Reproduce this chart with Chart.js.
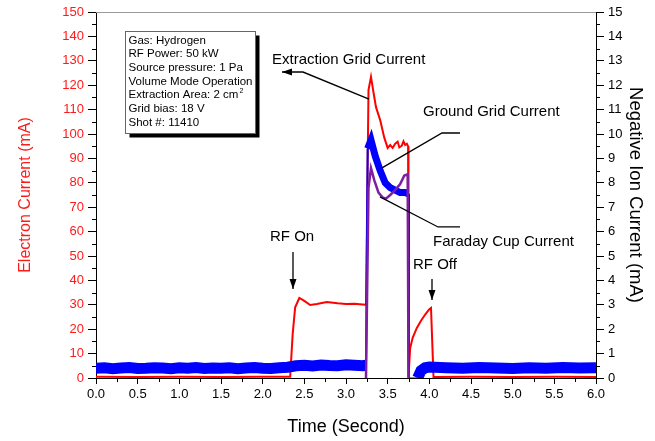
<!DOCTYPE html>
<html>
<head>
<meta charset="utf-8">
<script src="https://cdn.jsdelivr.net/npm/chart.js@4.4.1/dist/chart.umd.min.js"></script>
<style>
  html, body { margin: 0; padding: 0; background: #fff; }
  #wrap { width: 655px; height: 441px; }
</style>
</head>
<body>
<div id="wrap"><canvas id="chart"></canvas></div>
<script>
// Electron current (left axis, mA)
const electronTime = [0, 0.5, 1.0, 1.5, 2.0, 2.33, 2.36, 2.39, 2.44, 2.5, 2.57, 2.65, 2.77, 2.9, 3.0, 3.1, 3.2, 3.24,
  3.27, 3.30, 3.33, 3.36, 3.41, 3.46, 3.50, 3.53, 3.56, 3.59, 3.62, 3.64, 3.67, 3.69, 3.71, 3.73, 3.745,
  3.75, 3.77, 3.8, 3.85, 3.9, 3.95, 4.0, 4.02, 4.04, 4.05, 4.5, 5.0, 5.5, 6.0];
const electronCurrent = [0.5, 0.4, 0.5, 0.4, 0.5, 0.5, 18, 29, 32.8, 31.6, 29.9, 30.3, 31.1, 30.6, 30.3, 30.4, 30.1, 30.0,
  118, 123.4, 117, 111, 105.7, 98.4, 94.3, 95.5, 94.3, 96, 96.8, 94.5, 95.2, 97, 95.5, 96, 95,
  0.3, 12.3, 16.5, 20.5, 23.5, 26, 28.2, 28.7, 10, 0.4, 0.5, 0.4, 0.5, 0.4];

// Ground grid current (right axis, mA)
const groundTime = [0, 0.1, 0.2, 0.3, 0.4, 0.5, 0.6, 0.7, 0.8, 0.9, 1.0, 1.1, 1.2, 1.3, 1.4, 1.5, 1.6, 1.7, 1.8, 1.9,
  2.0, 2.1, 2.2, 2.3, 2.4, 2.5, 2.6, 2.7, 2.8, 2.9, 3.0, 3.1, 3.2, 3.24,
  3.26, 3.30, 3.35, 3.41, 3.47, 3.53, 3.59, 3.65, 3.71, 3.745, 3.755, 3.86, 3.9, 3.95,
  4.0, 4.2, 4.4, 4.6, 4.8, 5.0, 5.2, 5.4, 5.6, 5.8, 6.0];
const groundCurrent = [0.40, 0.42, 0.38, 0.41, 0.43, 0.39, 0.40, 0.42, 0.41, 0.38, 0.42, 0.40, 0.43, 0.39, 0.41, 0.40,
  0.42, 0.38, 0.41, 0.43, 0.40, 0.39, 0.42, 0.44, 0.50, 0.52, 0.49, 0.53, 0.51, 0.50, 0.54, 0.52, 0.50, 0.52,
  9.4, 9.75, 9.1, 8.5, 8.0, 7.8, 7.7, 7.6, 7.6, 7.55, 0, 0, 0.3, 0.42,
  0.45, 0.42, 0.40, 0.43, 0.41, 0.39, 0.42, 0.40, 0.43, 0.41, 0.42];

// Faraday cup current (right axis, mA)
const faradayTime = [3.24, 3.27, 3.30, 3.34, 3.39, 3.44, 3.48, 3.53, 3.59, 3.65, 3.70, 3.74, 3.75];
const faradayCurrent = [0, 7.8, 8.6, 8.1, 7.6, 7.4, 7.35, 7.5, 7.7, 7.95, 8.3, 8.35, 0];

const infoLines = ['Gas: Hydrogen', 'RF Power: 50 kW', 'Source pressure: 1 Pa', 'Volume Mode Operation',
  'Extraction Area: 2 cm', 'Grid bias: 18 V', 'Shot #: 11410'];

const FONT = '"Liberation Sans", Arial, sans-serif';

function points(t, v) {
  return t.map((x, i) => ({ x: x, y: v[i] }));
}

// thick noisy band on the baseline, thinner on the pulse, hairline on the edges
function groundWidth(ctx) {
  const y0 = ctx.p0.parsed.y, y1 = ctx.p1.parsed.y;
  if (Math.abs(y1 - y0) > 1) return 2;
  if (Math.max(y0, y1) < 0.05) return 1;
  return y0 > 2 ? 7 : 11;
}

// labels and arrows, placed in (time, left-axis mA)
const notes = [
  { text: 'Extraction Grid Current', t: 2.112, v: 130.3 },
  { text: 'Ground Grid Current', t: 3.924, v: 109.0 },
  { text: 'Faraday Cup Current', t: 4.044, v: 55.7 },
  { text: 'RF On', t: 2.088, v: 57.8 },
  { text: 'RF Off', t: 3.804, v: 46.3 }
];
const arrows = [
  { pts: [[3.276, 114.3], [2.484, 125.4], [2.232, 125.4]], head: true },
  { pts: [[3.432, 86.1], [4.152, 100.4], [4.368, 100.4]], head: false },
  { pts: [[3.408, 74.2], [4.104, 61.9], [4.368, 61.9]], head: false },
  { pts: [[2.364, 51.6], [2.364, 36.5]], head: true },
  { pts: [[4.032, 40.6], [4.032, 32.0]], head: true }
];

const extras = {
  id: 'extras',
  afterDraw(chart) {
    const { ctx, chartArea: a, scales } = chart;
    const x = scales.x, yl = scales.y, yr = scales.y2;
    ctx.save();

    // frame top
    ctx.strokeStyle = '#999';
    ctx.lineWidth = 1;
    ctx.beginPath();
    ctx.moveTo(a.left, a.top + 0.5);
    ctx.lineTo(a.right, a.top + 0.5);
    ctx.stroke();

    // minor ticks
    ctx.strokeStyle = '#000';
    ctx.beginPath();
    for (let v = 5; v < 150; v += 10) {
      const py = Math.round(yl.getPixelForValue(v)) + 0.5;
      ctx.moveTo(a.left, py); ctx.lineTo(a.left - 4, py);
    }
    for (let v = 0.5; v < 15; v += 1) {
      const py = Math.round(yr.getPixelForValue(v)) + 0.5;
      ctx.moveTo(a.right, py); ctx.lineTo(a.right + 4, py);
    }
    for (let v = 0.25; v < 6; v += 0.5) {
      const px = Math.round(x.getPixelForValue(v)) + 0.5;
      ctx.moveTo(px, a.bottom); ctx.lineTo(px, a.bottom + 4);
    }
    ctx.stroke();

    // arrows
    ctx.lineWidth = 1.3;
    ctx.fillStyle = '#000';
    arrows.forEach(ar => {
      const p = ar.pts.map(q => [x.getPixelForValue(q[0]), yl.getPixelForValue(q[1])]);
      ctx.beginPath();
      ctx.moveTo(p[0][0], p[0][1]);
      for (let i = 1; i < p.length; i++) ctx.lineTo(p[i][0], p[i][1]);
      ctx.stroke();
      if (ar.head) {
        const [x1, y1] = p[p.length - 2], [x2, y2] = p[p.length - 1];
        const ang = Math.atan2(y2 - y1, x2 - x1);
        ctx.beginPath();
        ctx.moveTo(x2, y2);
        ctx.lineTo(x2 - 10 * Math.cos(ang) + 3.5 * Math.sin(ang), y2 - 10 * Math.sin(ang) - 3.5 * Math.cos(ang));
        ctx.lineTo(x2 - 10 * Math.cos(ang) - 3.5 * Math.sin(ang), y2 - 10 * Math.sin(ang) + 3.5 * Math.cos(ang));
        ctx.closePath();
        ctx.fill();
      }
    });

    // labels
    ctx.font = '15px ' + FONT;
    ctx.textBaseline = 'middle';
    ctx.textAlign = 'left';
    notes.forEach(n => ctx.fillText(n.text, x.getPixelForValue(n.t), yl.getPixelForValue(n.v)));

    // run info box
    const bx = Math.round(x.getPixelForValue(0.348)) + 0.5;
    const by = Math.round(yl.getPixelForValue(142.2)) + 0.5;
    const bw = 130, bh = 102;
    ctx.fillStyle = '#000';
    ctx.fillRect(bx + 4, by + 4, bw, bh);
    ctx.fillStyle = '#fff';
    ctx.fillRect(bx, by, bw, bh);
    ctx.strokeStyle = '#666';
    ctx.lineWidth = 1;
    ctx.strokeRect(bx, by, bw, bh);
    ctx.fillStyle = '#000';
    ctx.font = '11.5px ' + FONT;
    infoLines.forEach((s, i) => {
      const ty = by + 9 + i * 13.7;
      ctx.fillText(s, bx + 3, ty);
      if (s.endsWith('cm')) {
        const w = ctx.measureText(s).width;
        ctx.font = '7px ' + FONT;
        ctx.fillText('2', bx + 3 + w + 1, ty - 4);
        ctx.font = '11.5px ' + FONT;
      }
    });
    ctx.restore();
  }
};

Chart.defaults.font.family = FONT;

new Chart(document.getElementById('chart'), {
  type: 'line',
  data: {
    datasets: [
      {
        label: 'Faraday Cup Current',
        data: points(faradayTime, faradayCurrent),
        yAxisID: 'y2',
        borderColor: '#7d1f9e',
        borderWidth: 2.5,
        pointRadius: 0,
        order: 1
      },
      {
        label: 'Ground Grid Current',
        data: points(groundTime, groundCurrent),
        yAxisID: 'y2',
        borderColor: '#0000ff',
        borderWidth: 2,
        pointRadius: 0,
        segment: { borderWidth: groundWidth },
        order: 2
      },
      {
        label: 'Extraction Grid Current',
        data: points(electronTime, electronCurrent),
        yAxisID: 'y',
        borderColor: '#ff0000',
        borderWidth: 2,
        pointRadius: 0,
        order: 3
      }
    ]
  },
  options: {
    animation: false,
    responsive: true,
    maintainAspectRatio: false,
    layout: { padding: { top: 12, left: 0, right: 0, bottom: 0 } },
    plugins: { legend: { display: false }, tooltip: { enabled: false } },
    scales: {
      x: {
        type: 'linear',
        min: 0,
        max: 6,
        afterFit: s => { s.height = 63; },
        ticks: { stepSize: 0.5, color: '#000', font: { size: 13 }, padding: 3, maxRotation: 0,
          callback: v => v.toFixed(1) },
        grid: { drawOnChartArea: false, tickLength: 6, color: '#000' },
        border: { color: '#000', width: 1 },
        title: { display: true, text: 'Time (Second)', color: '#000', font: { size: 18 }, padding: { top: 0, bottom: 3 } }
      },
      y: {
        position: 'left',
        min: 0,
        max: 150,
        afterFit: s => { s.width = 96; },
        ticks: { stepSize: 10, color: '#ff1a1a', font: { size: 13 }, padding: 4 },
        grid: { drawOnChartArea: false, tickLength: 8, color: '#000' },
        border: { color: '#000', width: 1 },
        title: { display: true, text: 'Electron Current (mA)', color: '#ff1a1a', font: { size: 16 }, padding: { top: 16, bottom: 0 } }
      },
      y2: {
        position: 'right',
        min: 0,
        max: 15,
        afterFit: s => { s.width = 59; },
        ticks: { stepSize: 1, color: '#000', font: { size: 13 }, padding: 4 },
        grid: { drawOnChartArea: false, tickLength: 8, color: '#000' },
        border: { color: '#000', width: 1 },
        title: { display: true, text: 'Negative Ion Current (mA)', color: '#000', font: { size: 18.5 }, padding: { top: 9, bottom: 0 } }
      }
    }
  },
  plugins: [extras]
});
</script>
</body>
</html>
